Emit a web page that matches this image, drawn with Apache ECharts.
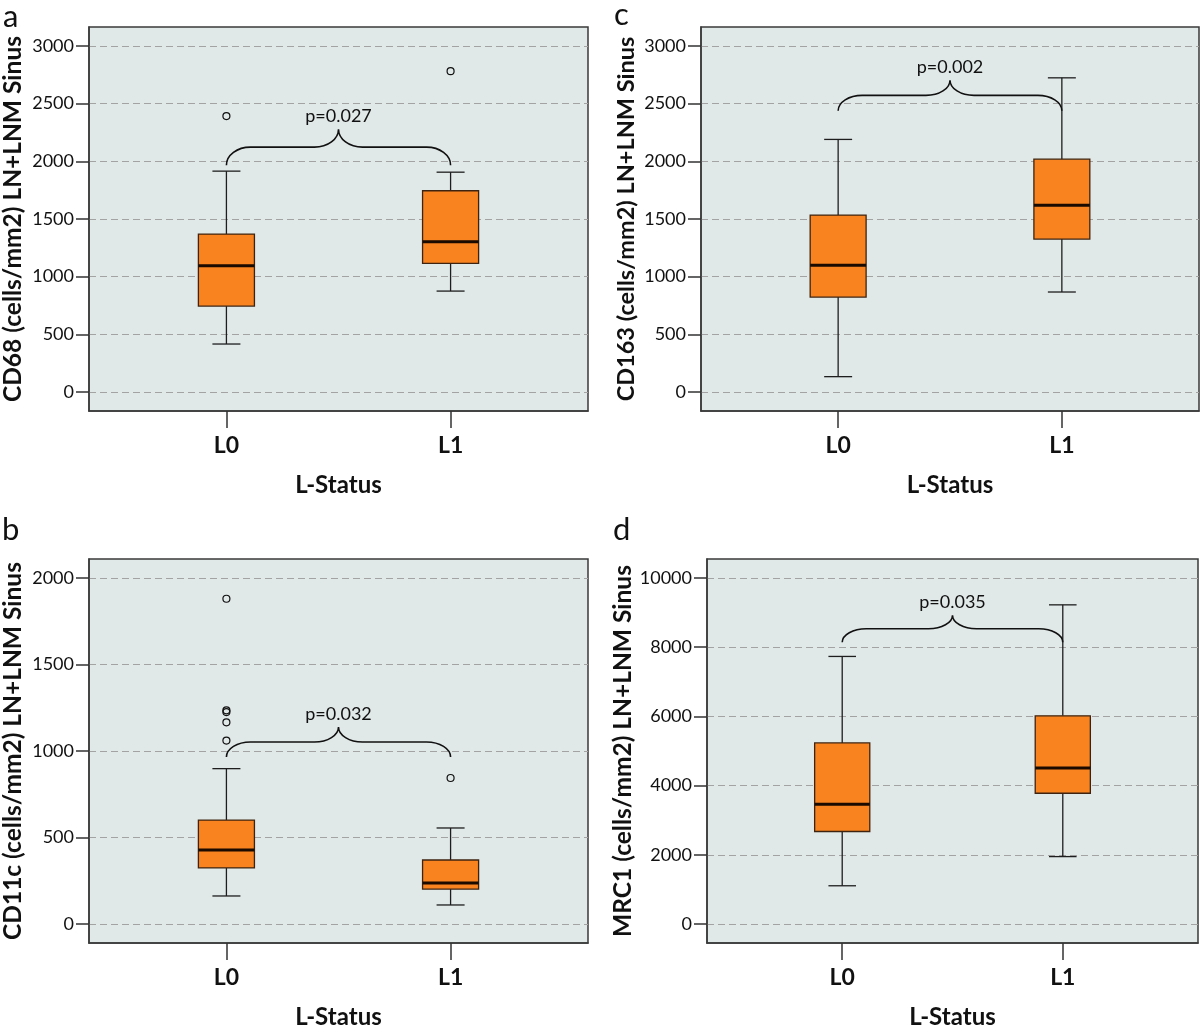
<!DOCTYPE html>
<html><head><meta charset="utf-8">
<script src="https://cdn.jsdelivr.net/npm/echarts@6/dist/echarts.min.js"></script>
<style>html,body{margin:0;padding:0;background:#fff;} #c{width:1200px;height:1025px;}</style>
</head><body><div id="c"></div>
<script>
const categories = ['L0', 'L1'];
// [lower whisker, Q1, median, Q3, upper whisker] per category
const cd68Box = [[416, 745, 1095, 1369, 1915], [875, 1115, 1303, 1745, 1906]];
const cd68Outliers = [[0, 2392], [1, 2782]];
const cd163Box = [[133, 823, 1100, 1534, 2190], [867, 1326, 1620, 2019, 2724]];
const cd163Outliers = [];
const cd11cBox = [[162, 324, 428, 601, 898], [110, 202, 237, 370, 555]];
const cd11cOutliers = [[0, 1880], [0, 1235], [0, 1225], [0, 1166], [0, 1060], [1, 844]];
const mrc1Box = [[1105, 2674, 3459, 5233, 7733], [1948, 3779, 4506, 6017, 9224]];
const mrc1Outliers = [];
// brace: [from category, to category, end value, peak value]
const cd68Brace = [0, 1, 1967, 2279];
const cd163Brace = [0, 1, 2439, 2704];
const cd11cBrace = [0, 1, 965, 1139];
const mrc1Brace = [0, 1, 8140, 8925];
const pLabels = ['p=0.027', 'p=0.002', 'p=0.032', 'p=0.035'];
const ticks3000 = [0, 500, 1000, 1500, 2000, 2500, 3000];
const ticks2000 = [0, 500, 1000, 1500, 2000];
const ticks10000 = [0, 2000, 4000, 6000, 8000, 10000];
const yTitles = ['CD68 (cells/mm2) LN+LNM Sinus', 'CD163 (cells/mm2) LN+LNM Sinus',
                 'CD11c (cells/mm2) LN+LNM Sinus', 'MRC1 (cells/mm2) LN+LNM Sinus'];
const xTitle = 'L-Status';
const panelLetters = ['a', 'c', 'b', 'd'];

const FONT = 'Lato';
const BOX_HALF = 0.125, CAP_HALF = 0.0625;
const X_MIN = -0.613, X_MAX = 1.613;
const PAD = 19 / 346;

const panels = [
  { box: cd68Box, out: cd68Outliers, brace: cd68Brace, ticks: ticks3000, titleSize: 24.5,
    grid: { left: 89, top: 27, width: 499, height: 384 }, nameGap: 63, letter: { left: 3, top: 1 } },
  { box: cd163Box, out: cd163Outliers, brace: cd163Brace, ticks: ticks3000, titleSize: 23.5,
    grid: { left: 701, top: 27, width: 498, height: 384 }, nameGap: 63, letter: { left: 614, top: -1 } },
  { box: cd11cBox, out: cd11cOutliers, brace: cd11cBrace, ticks: ticks2000, titleSize: 24.5,
    grid: { left: 89, top: 559, width: 499, height: 384 }, nameGap: 63, letter: { left: 2, top: 514 } },
  { box: mrc1Box, out: mrc1Outliers, brace: mrc1Brace, ticks: ticks10000, titleSize: 24.5,
    grid: { left: 707, top: 559, width: 491, height: 384 }, nameGap: 68, letter: { left: 613, top: 514 } }
];

function renderBox(params, api) {
  const x = api.value(0);
  const v = [1, 2, 3, 4, 5].map(k => api.value(k));
  const cx = api.coord([x, v[2]])[0];
  const y = v.map(val => api.coord([x, val])[1]);
  const bl = api.coord([x - BOX_HALF, v[2]])[0], br = api.coord([x + BOX_HALF, v[2]])[0];
  const cl = api.coord([x - CAP_HALF, v[2]])[0], cr = api.coord([x + CAP_HALF, v[2]])[0];
  const ws = { stroke: '#1e1e1e', lineWidth: 1.3 };
  return { type: 'group', children: [
    { type: 'line', shape: { x1: cx, y1: y[4], x2: cx, y2: y[3] }, style: ws },
    { type: 'line', shape: { x1: cx, y1: y[1], x2: cx, y2: y[0] }, style: ws },
    { type: 'line', shape: { x1: cl, y1: y[4], x2: cr, y2: y[4] }, style: ws },
    { type: 'line', shape: { x1: cl, y1: y[0], x2: cr, y2: y[0] }, style: ws },
    { type: 'rect', shape: { x: bl, y: y[3], width: br - bl, height: y[1] - y[3] },
      style: { fill: '#f8831f', stroke: '#3e2410', lineWidth: 1.3 } },
    { type: 'line', shape: { x1: bl, y1: y[2], x2: br, y2: y[2] }, style: { stroke: '#1a0a00', lineWidth: 3 } }
  ] };
}

function makeBrace(label) {
  return function (params, api) {
    const x1 = api.value(0), x2 = api.value(1), ye = api.value(2), yp = api.value(3);
    const L = api.coord([x1, ye]), R = api.coord([x2, ye]), P = api.coord([(x1 + x2) / 2, yp]);
    const fy = (L[1] + P[1]) / 2;
    const r = 24;
    const d = [
      'M', L[0], L[1],
      'C', L[0], L[1] - (L[1] - fy) * 0.55, L[0] + r * 0.45, fy, L[0] + r, fy,
      'L', P[0] - r, fy,
      'C', P[0] - r * 0.45, fy, P[0], fy - (fy - P[1]) * 0.45, P[0], P[1],
      'C', P[0], fy - (fy - P[1]) * 0.45, P[0] + r * 0.45, fy, P[0] + r, fy,
      'L', R[0] - r, fy,
      'C', R[0] - r * 0.45, fy, R[0], L[1] - (L[1] - fy) * 0.55, R[0], R[1]
    ].join(' ');
    return { type: 'group', children: [
      { type: 'path', shape: { pathData: d }, style: { fill: null, stroke: '#111', lineWidth: 1.6 } },
      { type: 'text', x: P[0], y: P[1] - 4,
        style: { text: label, textAlign: 'center', textVerticalAlign: 'bottom',
                 font: '18px ' + FONT, fill: '#111' } }
    ] };
  };
}

const option = { animation: false, title: [], grid: [], xAxis: [], yAxis: [], series: [] };

panels.forEach((p, i) => {
  const span = p.ticks[p.ticks.length - 1];
  option.title.push({ text: panelLetters[i], left: p.letter.left, top: p.letter.top, padding: 0,
    textStyle: { fontFamily: FONT, fontSize: 31, fontWeight: 'normal', color: '#111' } });
  option.grid.push(Object.assign({ show: true, backgroundColor: '#e1e8e8', containLabel: false,
    outerBoundsMode: 'none', borderColor: '#3a3a3a', borderWidth: 1.5 }, p.grid));
  option.xAxis.push({
    type: 'value', gridIndex: i, min: X_MIN, max: X_MAX,
    axisLine: { show: true, onZero: false, lineStyle: { color: '#3a3a3a', width: 1.5 } },
    axisTick: { show: true, customValues: [0, 1], length: 17, lineStyle: { color: '#333', width: 1.5 } },
    axisLabel: { customValues: [0, 1], formatter: v => categories[Math.round(v)], margin: 23,
      fontFamily: FONT, fontWeight: 'bold', fontSize: 23, color: '#111' },
    splitLine: { show: false },
    name: xTitle, nameLocation: 'middle', nameGap: 62,
    nameTextStyle: { fontFamily: FONT, fontWeight: 'bold', fontSize: 24, color: '#111' }
  });
  option.yAxis.push({
    type: 'value', gridIndex: i, min: -span * PAD, max: span * (1 + PAD),
    axisLine: { show: true, onZero: false, lineStyle: { color: '#3a3a3a', width: 1.5 } },
    axisTick: { show: true, customValues: p.ticks, length: 13, lineStyle: { color: '#333', width: 1.5 } },
    axisLabel: { customValues: p.ticks, formatter: v => String(Math.round(v)), margin: 15,
      fontFamily: FONT, fontSize: 18, color: '#111' },
    splitLine: { show: true, lineStyle: { type: [7, 4], color: '#a3a3a3', width: 1.2 } },
    name: yTitles[i], nameLocation: 'middle', nameGap: p.nameGap,
    nameTextStyle: { fontFamily: FONT, fontWeight: 'bold', fontSize: p.titleSize, color: '#111' }
  });
  option.series.push({
    type: 'custom', xAxisIndex: i, yAxisIndex: i, z: 3, silent: true,
    data: p.box.map((b, k) => [k].concat(b)),
    encode: { x: 0, y: [1, 2, 3, 4, 5] },
    renderItem: renderBox
  });
  option.series.push({
    type: 'scatter', xAxisIndex: i, yAxisIndex: i, z: 4, silent: true,
    data: p.out, symbol: 'circle', symbolSize: 7,
    itemStyle: { color: 'rgba(0,0,0,0)', borderColor: '#111', borderWidth: 1.2, opacity: 1 }
  });
  option.series.push({
    type: 'custom', xAxisIndex: i, yAxisIndex: i, z: 5, silent: true,
    data: [p.brace], encode: { x: [0, 1], y: [2, 3] },
    renderItem: makeBrace(pLabels[i])
  });
});

const chart = echarts.init(document.getElementById('c'), null, { renderer: 'canvas' });
chart.setOption(option);
</script>
</body></html>
